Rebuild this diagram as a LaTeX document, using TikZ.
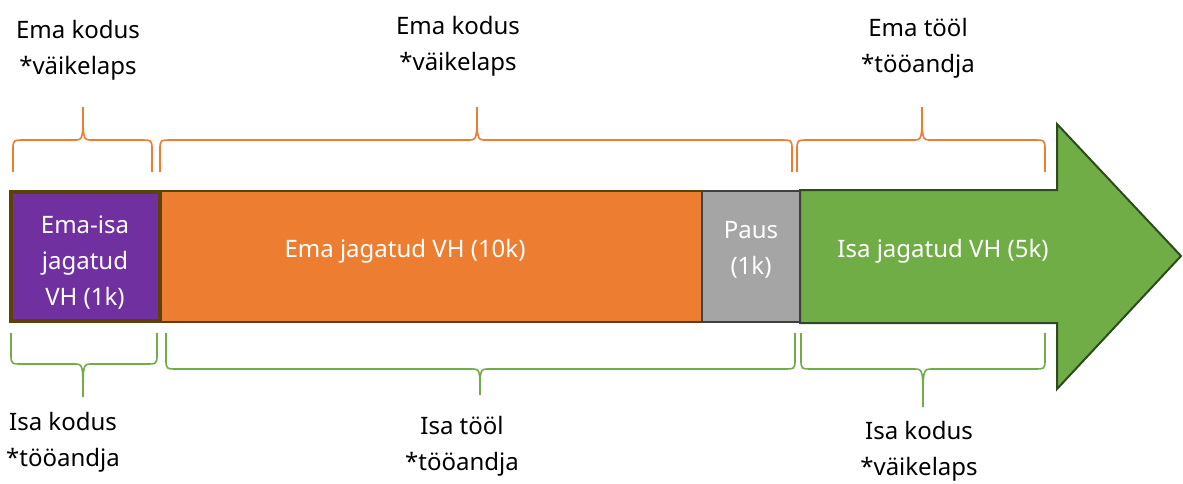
\documentclass[tikz,border=0pt]{standalone}
\usepackage{fontspec}
\setmainfont{Noto Sans}
\definecolor{cpurple}{HTML}{7030A0}
\definecolor{corange}{HTML}{ED7D31}
\definecolor{cgray}{HTML}{A5A5A5}
\definecolor{cgreen}{HTML}{70AD47}
\definecolor{cbrown}{HTML}{5E4009}
\definecolor{cdgray}{HTML}{404040}
\definecolor{cdgreen}{HTML}{2E4A1E}
\newcommand\mybrace[8]{%
  % #1 x1, #2 x2, #3 cx, #4 yend, #5 yline, #6 ytip, #7 d (signed corner), #8 colour
  \draw[bracestyle,#8] (#1,#4) -- (#1,{#5+#7}) .. controls (#1,#5) .. ({#1+12},#5)
    -- ({#3-9},#5) .. controls (#3,#5) .. (#3,#6)
    .. controls (#3,#5) .. ({#3+9},#5) -- ({#2-12},#5)
    .. controls (#2,#5) .. (#2,{#5+#7}) -- (#2,#4);}
\tikzset{
  bracestyle/.style={line width=1.6pt},
  lbl/.style={font=\fontsize{24}{36}\selectfont, align=center, anchor=base, inner sep=0pt},
  intext/.style={lbl, text=white},
}
\begin{document}
\begin{tikzpicture}[x=1pt,y=-1pt]
\useasboundingbox (0,0) rectangle (1183,483);
% arrow
\draw[fill=cgreen, draw=cdgreen, line width=2pt, line join=miter]
  (800,190) -- (1057,190) -- (1057,124) -- (1181,256) -- (1057,389) -- (1057,323) -- (800,323) -- cycle;
\node[coordinate] (arrowtip) at (1181,256) {};
% boxes
\path[fill=corange, draw=cbrown, line width=2.5pt] (160,191) rectangle (702,322);
\node[coordinate] (orangebox) at (431,256) {};
\path[fill=cpurple, draw=cbrown, line width=4pt] (11,192) rectangle (160,321);
\path[fill=cgray, draw=cdgray, line width=2.5pt] (702,191) rectangle (800,322);
% box texts (anchor = baseline of last line)
\node[intext] (t1) at (85,305) {Ema-isa\\jagatud\\VH (1k)};
\node[intext] (t2) at (405,257) {Ema jagatud VH (10k)};
\node[intext] (t3) at (751,274) {Paus\\(1k)};
\node[intext] (t4) at (943,257) {Isa jagatud VH (5k)};
% top braces
\mybrace{13}{152}{83}{172}{140}{107}{10}{corange}
\mybrace{160}{792}{477}{172}{140}{107}{10}{corange}
\mybrace{797}{1045}{922}{172}{140}{107}{10}{corange}
% bottom braces
\mybrace{11}{157}{83}{333}{364}{397}{-10}{cgreen}
\mybrace{166}{795}{480}{333}{369}{395}{-10}{cgreen}
\mybrace{801}{1045}{923}{333}{369}{407}{-10}{cgreen}
% labels (anchor = baseline of last line)
\node[lbl] (l1) at (78,74) {Ema kodus\\*väikelaps};
\node[lbl] (l2) at (458,70) {Ema kodus\\*väikelaps};
\node[lbl] (l3) at (918,72) {Ema tööl\\*tööandja};
\node[lbl] (l4) at (63,466) {Isa kodus\\*tööandja};
\node[lbl] (l5) at (462,470) {Isa tööl\\*tööandja};
\node[lbl] (l6) at (919,475) {Isa kodus\\*väikelaps};
\end{tikzpicture}
\end{document}
